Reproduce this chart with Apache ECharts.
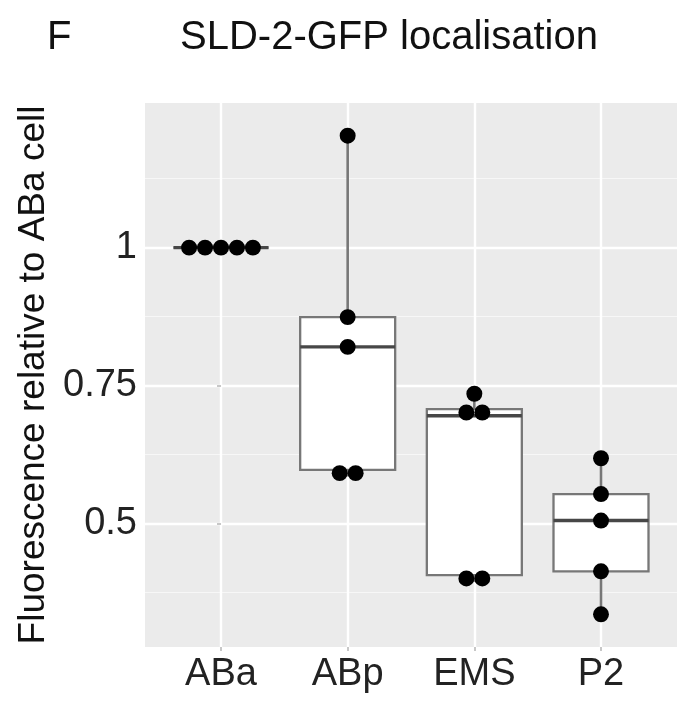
<!DOCTYPE html>
<html>
<head>
<meta charset="utf-8">
<script src="https://cdn.jsdelivr.net/npm/echarts@6/dist/echarts.min.js"></script>
<style>
  html, body { margin: 0; padding: 0; background: #ffffff; }
  #chart { width: 677px; height: 702px; }
</style>
</head>
<body>
<div id="chart"></div>
<script>
// Cell categories and per-embryo fluorescence ratios (relative to ABa)
const categories = ['ABa', 'ABp', 'EMS', 'P2'];
const valuesABa = [1, 1, 1, 1, 1];
const valuesABp = [0.585, 0.597, 0.82, 0.874, 1.203];
const valuesEMS = [0.394, 0.406, 0.695, 0.707, 0.735];
const valuesP2  = [0.335, 0.413, 0.505, 0.553, 0.618];

// Axis ticks
const yMajorTicks = [0.5, 0.75, 1];
const yMinorTicks = [0.375, 0.625, 0.875, 1.125];
const xTicks = [0, 1, 2, 3];

const groups = [valuesABa, valuesABp, valuesEMS, valuesP2];

// Type-7 quantile on sorted data
function quantile(sorted, p) {
  const h = (sorted.length - 1) * p;
  const lo = Math.floor(h), hi = Math.ceil(h);
  return sorted[lo] + (h - lo) * (sorted[hi] - sorted[lo]);
}

// Tukey box statistics: [whiskerLow, q1, median, q3, whiskerHigh]
function boxStats(vals) {
  const s = vals.slice().sort((a, b) => a - b);
  const q1 = quantile(s, 0.25), med = quantile(s, 0.5), q3 = quantile(s, 0.75);
  const iqr = q3 - q1;
  const inLo = s.filter(v => v >= q1 - 1.5 * iqr);
  const inHi = s.filter(v => v <= q3 + 1.5 * iqr);
  return [inLo[0], q1, med, q3, inHi[inHi.length - 1]];
}

// Dot-density binning along y (bin width = data range / 30)
const allVals = groups.flat();
const dataMin = Math.min(...allVals);
const dataMax = Math.max(...allVals);
const binwidth = (dataMax - dataMin) / 30;

function dotBins(vals) {
  const s = vals.slice().sort((a, b) => a - b);
  const bins = [];
  let i = 0;
  while (i < s.length) {
    const start = s[i];
    const members = [];
    while (i < s.length && s[i] < start + binwidth) { members.push(s[i]); i++; }
    bins.push({ center: (members[0] + members[members.length - 1]) / 2, count: members.length });
  }
  return bins;
}

// y range: dot extent plus 5% padding each side
const lower = dataMin - binwidth / 2;
const upper = dataMax + binwidth / 2;
const pad = (upper - lower) * 0.05;
const yMin = lower - pad;
const yMax = upper + pad;

const boxData = groups.map((g, i) => [i].concat(boxStats(g)));
const dotData = [];
groups.forEach((g, i) => {
  dotBins(g).forEach(b => {
    for (let k = 0; k < b.count; k++) dotData.push([i, b.center, k, b.count]);
  });
});

const boxLine = '#777777';
const medianLine = '#474747';
const FONT = 'Liberation Sans';

function renderBox(params, api) {
  const x = api.value(0);
  const lo = api.value(1), q1 = api.value(2), med = api.value(3), q3 = api.value(4), hi = api.value(5);
  const halfW = api.size([0.75, 0])[0] / 2;
  const pLo = api.coord([x, lo]), pQ1 = api.coord([x, q1]), pMed = api.coord([x, med]);
  const pQ3 = api.coord([x, q3]), pHi = api.coord([x, hi]);
  const cx = pMed[0];
  return {
    type: 'group',
    children: [
      { type: 'line', shape: { x1: cx, y1: pQ3[1], x2: cx, y2: pHi[1] },
        style: { stroke: boxLine, lineWidth: 2.6 } },
      { type: 'line', shape: { x1: cx, y1: pQ1[1], x2: cx, y2: pLo[1] },
        style: { stroke: boxLine, lineWidth: 2.6 } },
      { type: 'rect', shape: { x: cx - halfW, y: pQ3[1], width: 2 * halfW, height: pQ1[1] - pQ3[1] },
        style: { fill: '#ffffff', stroke: boxLine, lineWidth: 2.3 } },
      { type: 'line', shape: { x1: cx - halfW, y1: pMed[1], x2: cx + halfW, y2: pMed[1] },
        style: { stroke: medianLine, lineWidth: 3.4 } }
    ]
  };
}

function renderDot(params, api) {
  const c = api.coord([api.value(0), api.value(1)]);
  const d = api.size([0, binwidth])[1];
  const k = api.value(2), n = api.value(3);
  return {
    type: 'circle',
    shape: { cx: c[0] + (k - (n - 1) / 2) * d, cy: c[1], r: d / 2 },
    style: { fill: '#000000' }
  };
}

const chart = echarts.init(document.getElementById('chart'), null, { renderer: 'canvas' });
chart.setOption({
  animation: false,
  backgroundColor: '#ffffff',
  textStyle: { fontFamily: FONT },
  title: [
    { text: 'F', left: 42, top: 13,
      textStyle: { fontSize: 40, fontWeight: 'normal', color: '#111', fontFamily: FONT } },
    { text: 'SLD-2-GFP localisation', left: 175, top: 13,
      textStyle: { fontSize: 40, fontWeight: 'normal', color: '#111', fontFamily: FONT } }
  ],
  grid: {
    left: 145, right: -5, top: 103, bottom: 55,
    show: true, backgroundColor: '#EBEBEB', borderWidth: 0
  },
  xAxis: {
    type: 'value', min: -0.6, max: 3.6,
    axisLine: { show: false },
    axisTick: { show: true, customValues: xTicks, length: 4, lineStyle: { color: '#b5b5b5', width: 1.5 } },
    axisLabel: {
      customValues: xTicks, margin: 9,
      formatter: v => categories[Math.round(v)],
      fontSize: 38, color: '#222', fontFamily: FONT
    },
    splitLine: { show: true, lineStyle: { color: '#ffffff', width: 2.4 } }
  },
  yAxis: [
    {
      type: 'value', min: yMin, max: yMax,
      name: 'Fluorescence relative to ABa cell',
      nameLocation: 'middle', nameRotate: 90, nameGap: 92,
      nameTextStyle: { fontSize: 37, color: '#111', fontFamily: FONT },
      axisLine: { show: false },
      axisTick: { show: true, customValues: yMajorTicks, length: 4, lineStyle: { color: '#b5b5b5', width: 1.5 } },
      axisLabel: {
        customValues: yMajorTicks, margin: 8,
        formatter: v => String(v),
        fontSize: 38, color: '#222', fontFamily: FONT
      },
      splitLine: { show: true, lineStyle: { color: '#ffffff', width: 2.4 } }
    },
    {
      type: 'value', min: yMin, max: yMax, position: 'left',
      axisLine: { show: false },
      axisTick: { show: false, customValues: yMinorTicks },
      axisLabel: { show: false },
      splitLine: { show: true, lineStyle: { color: '#f7f7f7', width: 1.2 } }
    }
  ],
  series: [
    { type: 'custom', renderItem: renderBox, data: boxData, encode: { x: 0, y: [1, 2, 3, 4, 5] }, z: 2 },
    { type: 'custom', renderItem: renderDot, data: dotData, encode: { x: 0, y: 1 }, z: 3 }
  ]
});
</script>
</body>
</html>
